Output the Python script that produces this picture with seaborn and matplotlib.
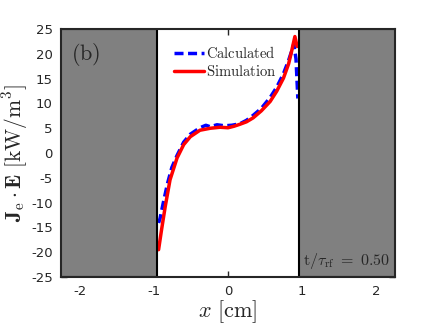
import numpy as np
import pandas as pd
import matplotlib
matplotlib.use("Agg")
import matplotlib.pyplot as plt
import seaborn as sns

# simulation curve (red)
x_sim = [-0.94, -0.90, -0.85, -0.785, -0.69, -0.60, -0.51, -0.38, -0.24, -0.11,
         0.0, 0.08, 0.16, 0.25, 0.34, 0.45, 0.57, 0.66, 0.75, 0.82, 0.86, 0.905, 0.935]
y_sim = [-19.5, -15.5, -10.8, -5.4, -1.0, 1.7, 3.3, 4.6, 5.0, 5.2,
         5.1, 5.4, 5.8, 6.3, 7.1, 8.5, 10.4, 12.5, 15.1, 18.0, 20.5, 23.5, 21.5]

# calculated curve (blue dashed)
x_calc = [-0.94, -0.92, -0.88, -0.82, -0.76, -0.69, -0.60, -0.51, -0.38, -0.30, -0.24,
          -0.15, -0.05, 0.05, 0.16, 0.25, 0.34, 0.45, 0.57, 0.66, 0.75, 0.82, 0.86,
          0.89, 0.92, 0.945]
y_calc = [-14.1, -13.2, -10.3, -6.2, -2.9, -0.5, 2.2, 3.8, 5.1, 5.6, 5.3,
          5.7, 5.5, 5.6, 5.9, 6.6, 7.6, 9.0, 11.2, 13.3, 16.0, 18.7, 20.5,
          22.0, 19.0, 11.0]

xticks = [-2, -1, 0, 1, 2]
yticks = list(range(-25, 30, 5))
wall = 0.955

sns.set_style("ticks")
plt.rcParams['font.family'] = ['DejaVu Sans']
plt.rcParams['mathtext.fontset'] = 'cm'
plt.rcParams['axes.unicode_minus'] = False

fig = plt.figure(figsize=(4.36, 3.27), dpi=100)
ax = fig.add_axes([0.14, 0.153, 0.766, 0.758])

sim = pd.DataFrame({'x': x_sim, 'y': y_sim})
calc = pd.DataFrame({'x': x_calc, 'y': y_calc})

sns.lineplot(data=calc, x='x', y='y', ax=ax, color='blue', lw=2.5,
             linestyle=(0, (2.6, 1.3)), label='$\\mathrm{Calculated}$', zorder=2)
sns.lineplot(data=sim, x='x', y='y', ax=ax, color='red', lw=2.5,
             label='$\\mathrm{Simulation}$', zorder=2)

# gray electrode regions
ax.axvspan(-2.3, -wall, facecolor='#808080', edgecolor='black', lw=1.5, zorder=3)
ax.axvspan(wall, 2.3, facecolor='#808080', edgecolor='black', lw=1.5, zorder=3)

ax.set_xlim(-2.26, 2.26)
ax.set_ylim(-25, 25)
ax.set_xticks(xticks)
ax.set_yticks(yticks)
ax.tick_params(direction='in', length=4, width=1, top=True, right=True,
               labelsize=9.5, pad=6)
for s in ax.spines.values():
    s.set_linewidth(1.5)
    s.set_zorder(5)

ax.set_xlabel('$x\\ [\\mathrm{cm}]$', fontsize=16, labelpad=0)
ax.set_ylabel('$\\mathbf{J}_{\\mathrm{e}}\\cdot\\mathbf{E}\\ [\\mathrm{kW}/\\mathrm{m}^3]$',
              fontsize=15.5)
ax.yaxis.set_label_coords(-0.092, 0.5)

ax.text(0.03, 0.95, '$(\\mathrm{b})$', transform=ax.transAxes, fontsize=16,
        va='top', ha='left', zorder=6)
ax.text(0.985, 0.025, '$\\mathrm{t}/\\tau_{\\mathrm{rf}}\\ =\\ 0.50$', transform=ax.transAxes,
        fontsize=11.5, va='bottom', ha='right', zorder=6)

ax.legend(loc='upper left', bbox_to_anchor=(0.3, 0.99), frameon=False,
          fontsize=10.5, handlelength=2.0, handletextpad=0.2, labelspacing=0.2)

fig.savefig('out.png', dpi=100)
